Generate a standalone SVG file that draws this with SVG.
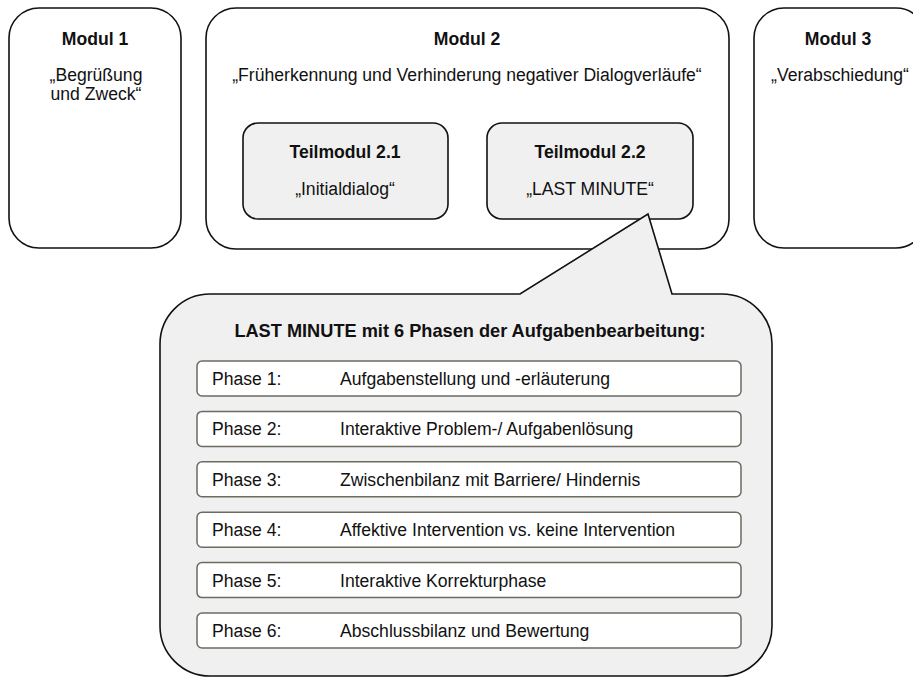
<svg xmlns="http://www.w3.org/2000/svg" width="913" height="677" viewBox="0 0 913 677">
<style>
.box{fill:#fff;stroke:#111;stroke-width:1.6}
.sub{fill:#f0f0f0;stroke:#111;stroke-width:1.6}
.row{fill:#fff;stroke:#6e6a60;stroke-width:1.5}
text{font-family:"Liberation Sans",Arial,sans-serif;font-size:17.6px;fill:#111}
.b{font-weight:bold}
.c{text-anchor:middle}
.t{font-size:18.2px}
</style>
<rect width="913" height="677" fill="#fff"/>
<g id="modul1">
<rect class="box" x="9" y="8" width="172" height="240" rx="30"/>
<text class="b c" x="95" y="45">Modul 1</text>
<text class="c" x="96" y="81">„Begrüßung</text>
<text class="c" x="96" y="100">und Zweck“</text>
</g>
<g id="modul2">
<rect class="box" x="206" y="8" width="523" height="241" rx="30"/>
<text class="b c" x="467" y="45">Modul 2</text>
<text class="c" x="467" y="81">„Früherkennung und Verhinderung negativer Dialogverläufe“</text>
</g>
<g id="teilmodul21">
<rect class="sub" x="243" y="123" width="205" height="96" rx="15"/>
<text class="b c" x="345" y="158">Teilmodul 2.1</text>
<text class="c" x="345" y="195">„Initialdialog“</text>
</g>
<g id="teilmodul22">
<rect class="sub" x="487" y="123" width="206" height="96" rx="15"/>
<text class="b c" x="590" y="158">Teilmodul 2.2</text>
<text class="c" x="590" y="195">„LAST MINUTE“</text>
</g>
<g id="modul3">
<rect class="box" x="754" y="8" width="172" height="240" rx="30"/>
<text class="b c" x="838" y="45">Modul 3</text>
<text class="c" x="840" y="81">„Verabschiedung“</text>
</g>
<g id="callout">
<path class="sub" d="M210,294 L520,294 L648,214 L672,294 L722,294 A50,50 0 0 1 772,344 L772,626 A50,50 0 0 1 722,676 L210,676 A50,50 0 0 1 160,626 L160,344 A50,50 0 0 1 210,294 Z"/>
<text class="b c t" x="470" y="337">LAST MINUTE mit 6 Phasen der Aufgabenbearbeitung:</text>
</g>
<g id="phase1">
<rect class="row" x="197" y="361" width="544" height="35" rx="5"/>
<text x="212" y="385">Phase 1:</text><text x="340" y="385">Aufgabenstellung und -erläuterung</text>
</g>
<g id="phase2">
<rect class="row" x="197" y="411.4" width="544" height="35" rx="5"/>
<text x="212" y="435.4">Phase 2:</text><text x="340" y="435.4">Interaktive Problem-/ Aufgabenlösung</text>
</g>
<g id="phase3">
<rect class="row" x="197" y="461.8" width="544" height="35" rx="5"/>
<text x="212" y="485.8">Phase 3:</text><text x="340" y="485.8">Zwischenbilanz mit Barriere/ Hindernis</text>
</g>
<g id="phase4">
<rect class="row" x="197" y="512.2" width="544" height="35" rx="5"/>
<text x="212" y="536.2">Phase 4:</text><text x="340" y="536.2">Affektive Intervention vs. keine Intervention</text>
</g>
<g id="phase5">
<rect class="row" x="197" y="562.6" width="544" height="35" rx="5"/>
<text x="212" y="586.6">Phase 5:</text><text x="340" y="586.6">Interaktive Korrekturphase</text>
</g>
<g id="phase6">
<rect class="row" x="197" y="613" width="544" height="35" rx="5"/>
<text x="212" y="637">Phase 6:</text><text x="340" y="637">Abschlussbilanz und Bewertung</text>
</g>
<g id="connectors"></g>
</svg>
